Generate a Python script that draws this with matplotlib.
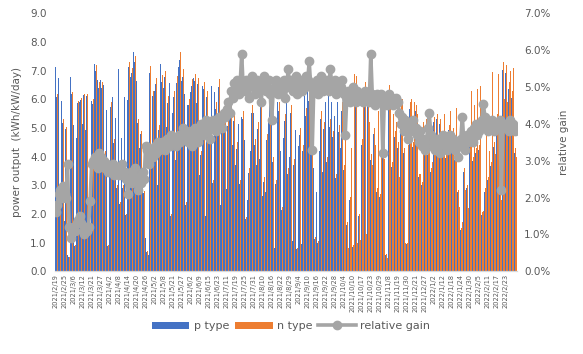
import matplotlib
matplotlib.use("Agg")
import matplotlib.pyplot as plt
from matplotlib.ticker import FuncFormatter
import numpy as np

# every 6th category gets a label (the data has gaps, so labels are not evenly spaced in time)
tick_labels = [
    "2021/2/19", "2021/2/25", "2021/3/6", "2021/3/12", "2021/3/21", "2021/3/27",
    "2021/4/2", "2021/4/8", "2021/4/14", "2021/4/20", "2021/4/26", "2021/5/2",
    "2021/5/8", "2021/5/21", "2021/5/27", "2021/6/2", "2021/6/9", "2021/6/15",
    "2021/6/23", "2021/7/11", "2021/7/19", "2021/7/25", "2021/7/31", "2021/8/10",
    "2021/8/16", "2021/8/22", "2021/8/29", "2021/9/4", "2021/9/10", "2021/9/16",
    "2021/9/22", "2021/9/28", "2021/10/4", "2021/10/10", "2021/10/17", "2021/10/23",
    "2021/10/29", "2021/11/8", "2021/11/19", "2021/11/30", "2021/12/21", "2021/12/27",
    "2022/1/2", "2022/1/12", "2022/1/18", "2022/1/24", "2022/1/30", "2022/2/5",
    "2022/2/11", "2022/2/17", "2022/2/23",
]
label_step = 6

# daily output, n type (kWh/kW/day)
n_type = [
    7.25, 6.2, 6.9, 2.3, 6.05, 5.3, 1.8, 5.05, 0.6, 0.5, 6.85, 6.25,
    5.15, 0.9, 4.7, 5.95, 6.0, 6.05, 5.2, 6.2, 5.0, 6.2, 2.5, 1.6,
    6.1, 6.0, 7.45, 7.2, 6.85, 6.6, 6.9, 6.6, 6.7, 4.2, 5.8, 0.9,
    3.5, 5.9, 6.25, 4.6, 5.5, 3.0, 7.25, 2.4, 4.8, 3.0, 6.25, 2.0,
    6.1, 7.3, 6.95, 7.1, 7.85, 7.5, 6.8, 5.3, 4.4, 4.9, 3.6, 2.8,
    1.2, 0.7, 0.6, 7.15, 4.5, 6.3, 6.5, 6.75, 3.1, 5.1, 7.5, 6.85,
    6.6, 7.0, 5.2, 6.1, 6.8, 2.0, 5.7, 6.3, 4.0, 6.8, 7.4, 7.65,
    6.9, 7.05, 6.4, 2.4, 6.0, 6.0, 6.5, 6.7, 7.0, 6.9, 6.1, 6.75,
    3.5, 4.2, 6.7, 6.6, 2.0, 6.3, 5.5, 4.8, 6.7, 3.2, 6.5, 5.9,
    5.4, 6.7, 2.4, 5.0, 5.6, 5.8, 3.0, 5.3, 6.0, 5.9, 4.6, 5.5,
    3.9, 4.5, 5.4, 3.2, 5.7, 5.6, 4.8, 1.9, 2.6, 3.6, 4.4, 5.8,
    5.8, 4.6, 3.9, 5.2, 4.1, 6.9, 2.75, 3.3, 2.9, 4.8, 5.6, 6.3,
    5.8, 4.0, 0.85, 3.2, 6.2, 5.9, 4.4, 2.25, 4.9, 5.5, 6.9, 3.6,
    4.2, 5.8, 1.1, 3.9, 5.2, 0.8, 4.6, 5.0, 1.0, 4.4, 6.4, 5.7,
    7.2, 6.3, 5.0, 4.6, 3.8, 1.2, 2.9, 1.05, 4.4, 5.6, 3.65, 5.2,
    6.2, 4.0, 6.4, 5.3, 6.2, 4.9, 5.7, 3.4, 6.2, 5.1, 4.5, 5.9,
    3.7, 5.2, 1.7, 0.8, 2.6, 4.3, 0.9, 6.9, 6.8, 1.0, 2.0, 1.1,
    4.6, 6.1, 6.6, 1.3, 6.5, 5.2, 4.1, 3.7, 5.0, 4.4, 2.9, 5.6,
    2.7, 4.6, 5.3, 3.9, 0.6, 0.45, 6.5, 6.3, 3.8, 5.5, 4.9, 5.2,
    4.5, 3.3, 5.9, 6.0, 4.3, 1.0, 1.0, 4.4, 5.9, 6.0, 4.5, 5.9,
    5.8, 5.5, 3.4, 3.4, 3.1, 5.2, 4.6, 5.3, 4.2, 4.8, 3.6, 3.8,
    5.4, 4.4, 5.5, 4.0, 5.3, 4.5, 4.7, 5.5, 4.1, 4.8, 5.1, 5.6,
    4.3, 5.0, 4.0, 5.7, 2.85, 2.25, 1.5, 1.7, 3.6, 2.85, 3.0, 2.2,
    4.6, 6.3, 4.0, 5.8, 4.3, 6.35, 4.4, 6.45, 2.05, 2.1, 2.9, 5.4,
    3.3, 4.2, 3.8, 6.95, 4.5, 4.1, 5.5, 6.9, 4.9, 2.5, 7.3, 6.0,
    7.2, 5.9, 6.6, 7.0, 6.3, 7.1, 4.3, 4.0,
]

# daily output, p type (kWh/kW/day)
p_type = [
    7.14, 6.09, 6.76, 2.25, 5.93, 5.18, 1.76, 4.95, 0.58, 0.49, 6.79, 6.18,
    5.09, 0.89, 4.64, 5.87, 5.91, 5.97, 5.14, 6.14, 4.94, 6.13, 2.47, 1.57,
    5.93, 5.83, 7.23, 7.0, 6.66, 6.4, 6.69, 6.41, 6.5, 4.09, 5.64, 0.88,
    3.4, 5.74, 6.07, 4.48, 5.35, 2.92, 7.07, 2.33, 4.66, 2.92, 6.09, 1.95,
    5.97, 7.12, 6.77, 6.93, 7.65, 7.3, 6.63, 5.19, 4.29, 4.79, 3.51, 2.73,
    1.16, 0.68, 0.58, 6.93, 4.36, 6.11, 6.29, 6.54, 3.0, 4.94, 7.25, 6.62,
    6.38, 6.78, 5.02, 5.89, 6.58, 1.93, 5.51, 6.08, 3.87, 6.56, 7.14, 7.39,
    6.65, 6.79, 6.18, 2.31, 5.8, 5.79, 6.26, 6.48, 6.76, 6.64, 5.88, 6.52,
    3.37, 4.04, 6.46, 6.35, 1.92, 6.07, 5.29, 4.63, 6.45, 3.07, 6.25, 5.68,
    5.19, 6.43, 2.31, 4.81, 5.37, 5.57, 2.87, 5.07, 5.75, 5.62, 4.39, 5.23,
    3.71, 4.28, 5.15, 3.04, 5.38, 5.33, 4.58, 1.81, 2.48, 3.44, 4.19, 5.51,
    5.52, 4.39, 3.71, 4.96, 3.9, 6.6, 2.62, 3.13, 2.76, 4.57, 5.32, 6.01,
    5.57, 3.81, 0.81, 3.04, 5.92, 5.61, 4.19, 2.14, 4.66, 5.25, 6.57, 3.41,
    4.0, 5.51, 1.05, 3.71, 4.94, 0.76, 4.38, 4.75, 0.95, 4.19, 6.1, 5.41,
    6.84, 5.96, 4.76, 4.45, 3.62, 1.14, 2.76, 1.0, 4.19, 5.32, 3.48, 4.95,
    5.9, 3.8, 6.1, 5.02, 5.9, 4.67, 5.42, 3.24, 5.9, 4.86, 4.29, 5.61,
    3.53, 5.01, 1.62, 0.76, 2.49, 4.1, 0.86, 6.59, 6.5, 0.95, 1.91, 1.05,
    4.39, 5.83, 6.29, 1.24, 6.2, 4.97, 3.87, 3.53, 4.78, 4.21, 2.77, 5.35,
    2.58, 4.39, 5.14, 3.73, 0.57, 0.43, 6.2, 6.02, 3.63, 5.26, 4.68, 4.97,
    4.3, 3.16, 5.67, 5.76, 4.14, 0.96, 0.96, 4.25, 5.67, 5.78, 4.32, 5.68,
    5.58, 5.3, 3.28, 3.28, 3.0, 5.02, 4.45, 5.12, 4.04, 4.6, 3.47, 3.67,
    5.22, 4.26, 5.31, 3.87, 5.14, 4.35, 4.53, 5.32, 3.96, 4.65, 4.93, 5.4,
    4.16, 4.83, 3.87, 5.51, 2.76, 2.18, 1.45, 1.63, 3.48, 2.76, 2.89, 2.13,
    4.44, 6.07, 3.86, 5.58, 4.13, 6.12, 4.24, 6.2, 1.97, 2.01, 2.78, 5.2,
    3.18, 4.04, 3.66, 6.68, 4.34, 3.94, 5.29, 6.63, 4.71, 2.45, 7.03, 5.77,
    6.93, 5.67, 6.36, 6.72, 6.06, 6.83, 4.14, 3.85,
]

# relative gain of n over p (%)
relative_gain = [
    1.6, 1.8, 2.1, 2.2, 2.0, 2.3, 2.1, 2.0, 2.9, 1.2, 0.9, 1.1,
    1.2, 1.1, 1.3, 1.4, 1.5, 1.3, 1.1, 1.0, 1.2, 1.1, 1.2, 1.9,
    2.9, 3.0, 3.1, 2.9, 2.8, 3.2, 3.1, 2.9, 3.0, 2.8, 2.9, 2.7,
    2.8, 2.7, 2.9, 2.6, 2.8, 2.7, 2.6, 2.8, 2.9, 2.6, 2.7, 2.5,
    2.1, 2.5, 2.7, 2.4, 2.6, 2.8, 2.5, 2.2, 2.6, 2.4, 2.7, 2.5,
    3.4, 3.3, 2.9, 3.2, 3.3, 3.1, 3.4, 3.2, 3.5, 3.3, 3.4, 3.5,
    3.4, 3.3, 3.6, 3.5, 3.4, 3.7, 3.5, 3.6, 3.4, 3.6, 3.7, 3.5,
    3.7, 3.9, 3.6, 3.8, 3.5, 3.7, 3.8, 3.4, 3.6, 3.9, 3.7, 3.5,
    3.8, 4.0, 3.7, 3.9, 4.1, 3.8, 4.0, 3.6, 3.9, 4.1, 4.0, 3.8,
    4.0, 4.2, 4.1, 3.9, 4.3, 4.2, 4.4, 4.6, 4.3, 4.9, 4.7, 5.1,
    5.0, 5.2, 4.8, 5.1, 5.9, 5.0, 4.9, 5.2, 5.0, 4.7, 5.1, 5.3,
    5.0, 4.8, 5.2, 4.9, 5.0, 4.6, 5.1, 5.3, 4.9, 5.0, 5.2, 4.8,
    4.1, 4.9, 5.0, 5.2, 4.8, 5.1, 4.9, 5.0, 5.2, 4.7, 5.0, 5.5,
    5.0, 5.2, 4.9, 5.1, 5.3, 4.8, 5.0, 5.2, 4.9, 5.1, 5.0, 5.3,
    5.2, 5.7, 5.0, 3.3, 4.9, 5.1, 5.2, 4.8, 5.0, 5.3, 4.9, 5.1,
    5.0, 5.2, 4.9, 5.5, 5.1, 5.0, 5.2, 4.8, 5.1, 4.9, 5.0, 5.2,
    4.8, 3.7, 4.7, 4.9, 4.6, 4.8, 5.0, 4.7, 4.6, 4.9, 4.8, 4.7,
    4.8, 4.6, 4.9, 4.7, 4.8, 4.6, 5.9, 4.8, 4.7, 4.5, 4.8, 4.6,
    4.7, 4.8, 3.2, 4.6, 4.7, 4.5, 4.8, 4.6, 4.7, 4.5, 4.6, 4.7,
    4.6, 4.3, 4.0, 4.2, 3.8, 4.1, 3.9, 3.6, 4.0, 3.8, 4.1, 3.9,
    3.9, 3.7, 3.5, 3.8, 3.4, 3.6, 3.3, 3.5, 3.9, 4.3, 3.7, 3.4,
    3.5, 3.3, 3.6, 3.4, 3.2, 3.5, 3.7, 3.4, 3.6, 3.3, 3.5, 3.7,
    3.4, 3.6, 3.3, 3.5, 3.1, 3.4, 3.6, 4.2, 3.5, 3.3, 3.7, 3.5,
    3.6, 3.8, 3.5, 3.9, 4.0, 3.7, 3.8, 4.0, 4.1, 4.55, 4.2, 3.9,
    3.8, 4.0, 3.9, 4.1, 3.8, 4.0, 3.9, 4.0, 4.1, 2.2, 3.9, 4.0,
    3.9, 4.0, 3.8, 4.1, 3.9, 4.0, 3.8, 3.9,
]

BLUE = "#4472C4"
ORANGE = "#ED7D31"
GREY = "#A5A5A5"
TEXT = "#595959"

x = np.arange(len(n_type))
bar_w = 0.5

fig = plt.figure(figsize=(5.83, 3.54), dpi=100)
ax = fig.add_axes([0.094, 0.234, 0.793, 0.728])
ax2 = ax.twinx()

ax.bar(x - bar_w / 2, p_type, width=bar_w, color=BLUE, label="p type", linewidth=0)
ax.bar(x + bar_w / 2, n_type, width=bar_w, color=ORANGE, label="n type", linewidth=0)
ax2.plot(x, relative_gain, color=GREY, linewidth=2.6, marker="o", markersize=6,
         label="relative gain")

ax.set_xlim(-0.5, len(x) - 0.5)
ax.set_ylim(0, 9)
ax.set_yticks(np.arange(0, 9.1, 1.0))
ax.yaxis.set_major_formatter(FuncFormatter(lambda v, _: f"{v:.1f}"))
ax2.set_ylim(0, 7)
ax2.set_yticks(np.arange(0, 7.1, 1.0))
ax2.yaxis.set_major_formatter(FuncFormatter(lambda v, _: f"{v:.1f}%"))

ax.set_xticks(np.arange(0, len(tick_labels) * label_step, label_step))
ax.set_xticklabels(tick_labels, rotation=90, fontsize=4.8, color=TEXT)

for a in (ax, ax2):
    for s in ("top", "left", "right"):
        a.spines[s].set_visible(False)
    a.spines["bottom"].set_color("#D9D9D9")
    a.tick_params(axis="y", length=0, labelsize=7.5, labelcolor=TEXT)
ax.tick_params(axis="x", length=0, pad=2)
ax.tick_params(axis="y", pad=6)
ax2.tick_params(axis="y", pad=5)

ax.set_ylabel("power output  (kWh/kW/day)", fontsize=7.5, color=TEXT, labelpad=6)
ax2.set_ylabel("relative gain", fontsize=7.5, color=TEXT, labelpad=6)

h1, l1 = ax.get_legend_handles_labels()
h2, l2 = ax2.get_legend_handles_labels()
fig.legend(h1 + h2, l1 + l2, loc="center", bbox_to_anchor=(0.499, 0.079), ncol=3,
           frameon=False, fontsize=8, labelcolor=TEXT, handlelength=3.4,
           handleheight=0.6, columnspacing=0.5, handletextpad=0.4)

fig.savefig("out.png", dpi=100)
